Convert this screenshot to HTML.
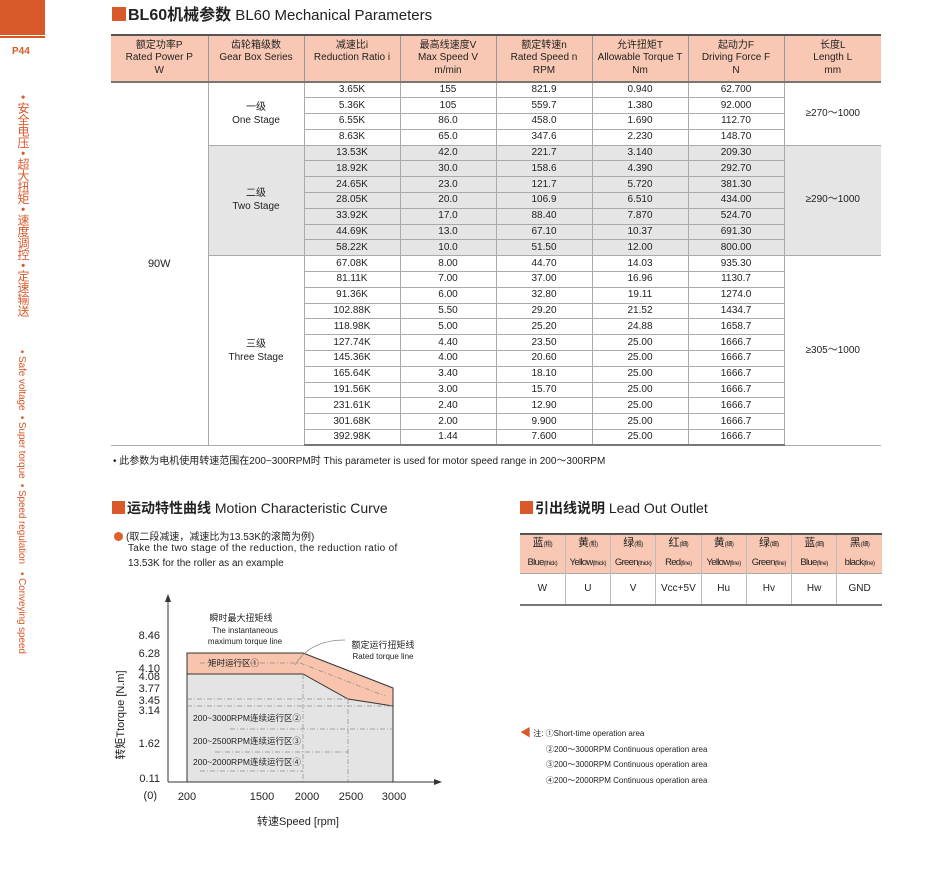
<!DOCTYPE html>
<html><head><meta charset="utf-8">
<style>
*{margin:0;padding:0;box-sizing:border-box}
body{width:950px;height:895px;background:#fff;position:relative;overflow:hidden;font-family:"Liberation Sans","Noto Sans CJK SC",sans-serif;color:#222}
.a{position:absolute;white-space:nowrap}
table{border-collapse:collapse;table-layout:fixed}
#t{position:absolute;left:111px;top:34px;width:770px;font-size:10px}
#t td{border:1px solid #aaa;text-align:center;height:15.8px;line-height:14px;padding:0;border-top:1px solid #bbb}
#t tr.h td{background:#f8c8b4;height:47px;line-height:12.5px;font-size:10px;border-top:2px solid #555;border-bottom:2px solid #777;border-left:1px solid #999;border-right:1px solid #999}
#t tr.last td{border-bottom:2px solid #777}
#t td.w{background:#fff}
#t .g{background:#e5e5e6}
#t tr td:first-child{border-left:none}
#t tr td:last-child{border-right:none}
.sq{display:inline-block;width:13px;height:13px;background:#d9592a;vertical-align:-1px;margin-right:2px}
#l{position:absolute;left:520px;top:533px;width:362px;font-size:9.5px;letter-spacing:-0.7px}
#l td{text-align:center;border-right:1px solid #bbb;overflow:hidden;white-space:nowrap}
#l tr td:last-child{border-right:none}
#l tr.p td{background:#f8c8b4;height:17px;line-height:17px}
#l tr.p.c td{font-size:11px;letter-spacing:0}
#l tr.d td{height:31px;border-bottom:2px solid #777;border-top:1px solid #aaa;font-size:10px;letter-spacing:0}
#l small{font-size:6px;letter-spacing:-0.4px}
</style></head><body>
<div class="a" style="left:0;top:0;width:45px;height:35px;background:#d9592a"></div>
<div class="a" style="left:0;top:36px;width:45px;height:2px;background:#d9592a"></div>
<div class="a" style="left:12px;top:46px;font-size:10px;color:#d9592a;font-weight:bold">P44</div>
<div class="a" style="left:15px;top:95px;writing-mode:vertical-rl;font-size:12px;color:#d9592a;letter-spacing:-0.4px">• 安全电压 • 超大扭矩 • 速度调控 • 定速输送</div>
<div class="a" style="left:16px;top:350px;writing-mode:vertical-rl;font-size:10px;color:#d9592a;letter-spacing:-0.1px">• Safe voltage &nbsp;• Super torque &nbsp;• Speed regulation &nbsp;&nbsp;• Conveying speed</div>

<div class="a" style="left:112px;top:1px;font-size:15px"><span class="sq" style="width:14px;height:14px"></span><b style="font-size:16px">BL60机械参数</b> BL60 Mechanical Parameters</div>

<table id="t">
<colgroup><col style="width:97px"><col style="width:96px"><col style="width:96px"><col style="width:96px"><col style="width:96px"><col style="width:96px"><col style="width:96px"><col style="width:97px"></colgroup>
<tr class="h"><td>额定功率P<br>Rated Power P<br>W</td><td>齿轮箱级数<br>Gear Box Series<br>&nbsp;</td><td>减速比i<br>Reduction Ratio i<br>&nbsp;</td><td>最高线速度V<br>Max Speed V<br>m/min</td><td>额定转速n<br>Rated Speed n<br>RPM</td><td>允许扭矩T<br>Allowable Torque T<br>Nm</td><td>起动力F<br>Driving Force F<br>N</td><td>长度L<br>Length L<br>mm</td></tr>
<tr><td rowspan="23" class="w" style="font-size:11px">90W</td><td rowspan="4" style="font-size:10px;line-height:13px">一级<br>One Stage</td><td>3.65K</td><td>155</td><td>821.9</td><td>0.940</td><td>62.700</td><td rowspan="4">≥270～1000</td></tr>
<tr><td>5.36K</td><td>105</td><td>559.7</td><td>1.380</td><td>92.000</td></tr>
<tr><td>6.55K</td><td>86.0</td><td>458.0</td><td>1.690</td><td>112.70</td></tr>
<tr><td>8.63K</td><td>65.0</td><td>347.6</td><td>2.230</td><td>148.70</td></tr>
<tr class="g"><td rowspan="7" class="g" style="line-height:13px">二级<br>Two Stage</td><td class="g">13.53K</td><td class="g">42.0</td><td class="g">221.7</td><td class="g">3.140</td><td class="g">209.30</td><td rowspan="7" class="g">≥290～1000</td></tr>
<tr><td class="g">18.92K</td><td class="g">30.0</td><td class="g">158.6</td><td class="g">4.390</td><td class="g">292.70</td></tr>
<tr><td class="g">24.65K</td><td class="g">23.0</td><td class="g">121.7</td><td class="g">5.720</td><td class="g">381.30</td></tr>
<tr><td class="g">28.05K</td><td class="g">20.0</td><td class="g">106.9</td><td class="g">6.510</td><td class="g">434.00</td></tr>
<tr><td class="g">33.92K</td><td class="g">17.0</td><td class="g">88.40</td><td class="g">7.870</td><td class="g">524.70</td></tr>
<tr><td class="g">44.69K</td><td class="g">13.0</td><td class="g">67.10</td><td class="g">10.37</td><td class="g">691.30</td></tr>
<tr><td class="g">58.22K</td><td class="g">10.0</td><td class="g">51.50</td><td class="g">12.00</td><td class="g">800.00</td></tr>
<tr><td rowspan="12" style="line-height:13px">三级<br>Three Stage</td><td>67.08K</td><td>8.00</td><td>44.70</td><td>14.03</td><td>935.30</td><td rowspan="12">≥305～1000</td></tr>
<tr><td>81.11K</td><td>7.00</td><td>37.00</td><td>16.96</td><td>1130.7</td></tr>
<tr><td>91.36K</td><td>6.00</td><td>32.80</td><td>19.11</td><td>1274.0</td></tr>
<tr><td>102.88K</td><td>5.50</td><td>29.20</td><td>21.52</td><td>1434.7</td></tr>
<tr><td>118.98K</td><td>5.00</td><td>25.20</td><td>24.88</td><td>1658.7</td></tr>
<tr><td>127.74K</td><td>4.40</td><td>23.50</td><td>25.00</td><td>1666.7</td></tr>
<tr><td>145.36K</td><td>4.00</td><td>20.60</td><td>25.00</td><td>1666.7</td></tr>
<tr><td>165.64K</td><td>3.40</td><td>18.10</td><td>25.00</td><td>1666.7</td></tr>
<tr><td>191.56K</td><td>3.00</td><td>15.70</td><td>25.00</td><td>1666.7</td></tr>
<tr><td>231.61K</td><td>2.40</td><td>12.90</td><td>25.00</td><td>1666.7</td></tr>
<tr><td>301.68K</td><td>2.00</td><td>9.900</td><td>25.00</td><td>1666.7</td></tr>
<tr class="last"><td>392.98K</td><td>1.44</td><td>7.600</td><td>25.00</td><td>1666.7</td></tr>
</table>

<div class="a" style="left:113px;top:452px;font-size:10px">• 此参数为电机使用转速范围在200~300RPM时 This parameter is used for motor speed range in 200～300RPM</div>

<div class="a" style="left:112px;top:498px;font-size:14px"><span class="sq"></span><b>运动特性曲线</b> Motion Characteristic Curve</div>
<div class="a" style="left:114px;top:528px;font-size:10px"><span style="display:inline-block;width:9px;height:9px;border-radius:50%;background:#e0602a;vertical-align:-1px;margin-right:3px"></span>(取二段减速，减速比为13.53K的滚筒为例)</div>
<div class="a" style="left:128px;top:543px;font-size:10px;letter-spacing:0.3px">Take the two stage of the reduction, the reduction ratio of</div>
<div class="a" style="left:128px;top:558px;font-size:10px">13.53K for the roller as an example</div>

<svg class="a" style="left:0;top:0" width="950" height="895" font-family="Liberation Sans, Noto Sans CJK SC, sans-serif">
<polygon points="187,653 303,653 393,688 393,706 348,699 303,674 187,674" fill="#f8c4ae"/>
<polygon points="187,674 303,674 348,699 393,706 393,782 187,782" fill="#e4e4e5"/>
<polyline points="187,782 187,653 303,653 393,688 393,782" fill="none" stroke="#333" stroke-width="1"/>
<polyline points="187,674 303,674 348,699 393,706" fill="none" stroke="#333" stroke-width="1"/>
<g stroke="#888" stroke-width="0.7" stroke-dasharray="5,2,1,2" fill="none">
<line x1="303" y1="674" x2="303" y2="782"/><line x1="348" y1="699" x2="348" y2="782"/>
<line x1="187" y1="699" x2="348" y2="699"/><line x1="187" y1="706" x2="393" y2="706"/>
<line x1="200" y1="663" x2="300" y2="663"/><line x1="300" y1="663" x2="385" y2="696"/>
<line x1="230" y1="729" x2="393" y2="729"/><line x1="215" y1="752" x2="348" y2="752"/><line x1="200" y1="771" x2="303" y2="771"/>
</g>
<path d="M295,665 Q310,640 345,640" fill="none" stroke="#888" stroke-width="0.7"/>
<line x1="168" y1="782" x2="168" y2="600" stroke="#333"/><polygon points="165,602 171,602 168,594" fill="#333"/>
<line x1="168" y1="782" x2="436" y2="782" stroke="#333"/><polygon points="434,779 434,785 442,782" fill="#333"/>
<g font-size="11" text-anchor="end" fill="#222">
<text x="160" y="639">8.46</text><text x="160" y="657">6.28</text><text x="160" y="672">4.10</text><text x="160" y="680">4.08</text><text x="160" y="692">3.77</text><text x="160" y="704">3.45</text><text x="160" y="714">3.14</text><text x="160" y="747">1.62</text><text x="160" y="782">0.11</text><text x="157" y="799">(0)</text>
</g>
<g font-size="11" text-anchor="middle" fill="#222">
<text x="187" y="800">200</text><text x="262" y="800">1500</text><text x="307" y="800">2000</text><text x="351" y="800">2500</text><text x="394" y="800">3000</text>
<text x="298" y="825">转速Speed [rpm]</text>
<text x="241" y="621" font-size="9">瞬时最大扭矩线</text><text x="245" y="633" font-size="8">The instantaneous</text><text x="245" y="644" font-size="8">maximum torque line</text>
<text x="383" y="648" font-size="9">额定运行扭矩线</text><text x="383" y="659" font-size="8">Rated torque line</text>
</g>
<text transform="translate(124,715) rotate(-90)" font-size="11" text-anchor="middle" fill="#222">转矩Ttorque [N.m]</text>
<g font-size="8.5" fill="#222">
<text x="208" y="666">矩时运行区①</text>
<text x="193" y="721">200~3000RPM连续运行区②</text>
<text x="193" y="744">200~2500RPM连续运行区③</text>
<text x="193" y="765">200~2000RPM连续运行区④</text>
</g>
</svg>

<div class="a" style="left:520px;top:498px;font-size:14px"><span class="sq"></span><b>引出线说明</b> Lead Out Outlet</div>
<table id="l">
<tr class="p c"><td style="border-top:2px solid #555">蓝<small>(粗)</small></td><td style="border-top:2px solid #555">黄<small>(粗)</small></td><td style="border-top:2px solid #555">绿<small>(粗)</small></td><td style="border-top:2px solid #555">红<small>(细)</small></td><td style="border-top:2px solid #555">黄<small>(细)</small></td><td style="border-top:2px solid #555">绿<small>(细)</small></td><td style="border-top:2px solid #555">蓝<small>(细)</small></td><td style="border-top:2px solid #555">黑<small>(细)</small></td></tr>
<tr class="p"><td>Blue<small>(thick)</small></td><td>Yellow<small>(thick)</small></td><td>Green<small>(thick)</small></td><td>Red<small>(fine)</small></td><td>Yellow<small>(fine)</small></td><td>Green<small>(fine)</small></td><td>Blue<small>(fine)</small></td><td>black<small>(fine)</small></td></tr>
<tr class="d"><td>W</td><td>U</td><td>V</td><td>Vcc+5V</td><td>Hu</td><td>Hv</td><td>Hw</td><td>GND</td></tr>
</table>

<div class="a" style="left:520px;top:726px;font-size:8px;line-height:15.5px">
<span style="color:#d9592a;font-size:11px">◀</span> 注: ①Short-time operation area<br>
<span style="padding-left:26px">②200～3000RPM Continuous operation area</span><br>
<span style="padding-left:26px">③200～3000RPM Continuous operation area</span><br>
<span style="padding-left:26px">④200～2000RPM Continuous operation area</span></div>
</body></html>
